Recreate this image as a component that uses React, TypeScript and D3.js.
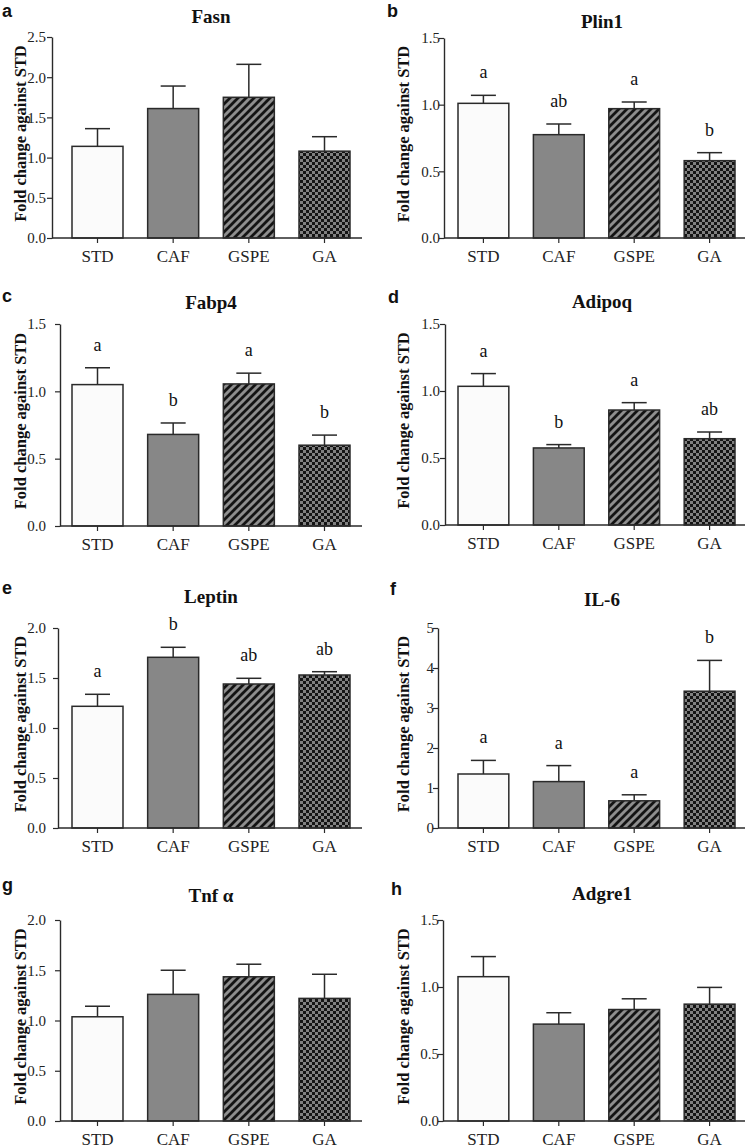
import React, { useEffect, useRef } from 'react';
import * as d3 from 'd3';

// groups on the x axis of every panel
const groups = ['STD', 'CAF', 'GSPE', 'GA'];

// one entry per panel, a..h
const panelTags = ['a', 'b', 'c', 'd', 'e', 'f', 'g', 'h'];
const geneNames = ['Fasn', 'Plin1', 'Fabp4', 'Adipoq', 'Leptin', 'IL-6', 'Tnf \u03b1', 'Adgre1'];

// mean fold change (STD, CAF, GSPE, GA)
const meanValues = [
  [1.14, 1.61, 1.75, 1.08],
  [1.01, 0.775, 0.97, 0.58],
  [1.05, 0.68, 1.055, 0.6],
  [1.035, 0.575, 0.858, 0.644],
  [1.217, 1.707, 1.44, 1.53],
  [1.35, 1.16, 0.68, 3.42],
  [1.037, 1.26, 1.435, 1.22],
  [1.077, 0.723, 0.832, 0.872],
];

// upper error bar (SEM)
const semValues = [
  [0.22, 0.28, 0.41, 0.18],
  [0.06, 0.08, 0.05, 0.06],
  [0.125, 0.085, 0.08, 0.075],
  [0.095, 0.025, 0.055, 0.05],
  [0.12, 0.1, 0.057, 0.033],
  [0.34, 0.4, 0.15, 0.77],
  [0.105, 0.24, 0.125, 0.24],
  [0.15, 0.085, 0.08, 0.125],
];

// significance letters above the bars
const sigLetters = [
  ['', '', '', ''],
  ['a', 'ab', 'a', 'b'],
  ['a', 'b', 'a', 'b'],
  ['a', 'b', 'a', 'ab'],
  ['a', 'b', 'ab', 'ab'],
  ['a', 'a', 'a', 'b'],
  ['', '', '', ''],
  ['', '', '', ''],
];

const yMaxValues = [2.5, 1.5, 1.5, 1.5, 2.0, 5, 2.0, 1.5];
const yTickSteps = [0.5, 0.5, 0.5, 0.5, 0.5, 1, 0.5, 0.5];

// page geometry of each panel (the figure panels are not perfectly aligned)
const layout = [
  { axisX: 52, top: 37, bottom: 238, tagX: 2, tagY: 17, titleY: 23 },
  { axisX: 444, top: 38, bottom: 238, tagX: 387, tagY: 17, titleY: 28 },
  { axisX: 60, top: 324, bottom: 526, tagX: 2, tagY: 302, titleY: 309 },
  { axisX: 445, top: 324, bottom: 525, tagX: 388, tagY: 303, titleY: 308 },
  { axisX: 58, top: 628, bottom: 828, tagX: 2, tagY: 594, titleY: 603 },
  { axisX: 438, top: 628, bottom: 828, tagX: 390, tagY: 595, titleY: 606 },
  { axisX: 60, top: 920, bottom: 1121, tagX: 2, tagY: 891, titleY: 902 },
  { axisX: 443, top: 920, bottom: 1121, tagX: 391, tagY: 895, titleY: 900 },
];

const columns = [
  { barRange: [72, 350], xEnd: 362, labelX: 46, titleX: 211, yLabelX: 26 },
  { barRange: [458, 735], xEnd: 745, labelX: 440, titleX: 602, yLabelX: 409 },
];

const fills = ['#fbfbfb', '#878787', 'url(#stripes)', 'url(#checks)'];
const SERIF = '"Liberation Serif", "Times New Roman", serif';
const SANS = '"Liberation Sans", Arial, sans-serif';
const INK = '#2a2a2a';

const App: React.FC = () => {
  const svgRef = useRef<SVGSVGElement>(null);

  useEffect(() => {
    const svg = d3.select(svgRef.current);
    svg.selectAll('*').remove();

    const defs = svg.append('defs');
    const stripes = defs.append('pattern')
      .attr('id', 'stripes')
      .attr('patternUnits', 'userSpaceOnUse')
      .attr('width', 8)
      .attr('height', 8);
    stripes.append('rect').attr('width', 8).attr('height', 8).attr('fill', '#8e8e8e');
    stripes.append('path')
      .attr('d', 'M-2,2 L2,-2 M0,8 L8,0 M6,10 L10,6')
      .attr('stroke', '#141414')
      .attr('stroke-width', 2.8);

    const checks = defs.append('pattern')
      .attr('id', 'checks')
      .attr('patternUnits', 'userSpaceOnUse')
      .attr('width', 6)
      .attr('height', 6);
    checks.append('rect').attr('width', 6).attr('height', 6).attr('fill', '#808080');
    checks.append('rect').attr('width', 3).attr('height', 3).attr('fill', '#141414');
    checks.append('rect').attr('x', 3).attr('y', 3).attr('width', 3).attr('height', 3).attr('fill', '#141414');

    layout.forEach((L, i) => {
      const col = columns[i % 2];
      const means = meanValues[i];
      const sems = semValues[i];
      const yMax = yMaxValues[i];
      const step = yTickSteps[i];

      const x = d3.scaleBand<string>()
        .domain(groups)
        .range(col.barRange as [number, number])
        .paddingInner(0.326)
        .paddingOuter(0);
      const y = d3.scaleLinear().domain([0, yMax]).range([L.bottom, L.top]);

      const g = svg.append('g');

      // panel tag and title
      g.append('text')
        .attr('x', L.tagX)
        .attr('y', L.tagY)
        .attr('font-family', SANS)
        .attr('font-weight', 'bold')
        .attr('font-size', 18)
        .attr('fill', '#111')
        .text(panelTags[i]);

      g.append('text')
        .attr('x', col.titleX)
        .attr('y', L.titleY)
        .attr('text-anchor', 'middle')
        .attr('font-family', SERIF)
        .attr('font-weight', 'bold')
        .attr('font-size', 19)
        .attr('fill', '#111')
        .text(geneNames[i]);

      // y axis label
      const yMid = (L.top + L.bottom) / 2 - 4;
      g.append('text')
        .attr('transform', `translate(${col.yLabelX},${yMid}) rotate(-90)`)
        .attr('text-anchor', 'middle')
        .attr('font-family', SERIF)
        .attr('font-weight', 'bold')
        .attr('font-size', 16.5)
        .attr('fill', '#111')
        .text('Fold change against STD');

      // bars
      g.selectAll('rect.bar')
        .data(groups)
        .enter()
        .append('rect')
        .attr('class', 'bar')
        .attr('x', d => x(d) as number)
        .attr('y', (_, j) => y(means[j]))
        .attr('width', x.bandwidth())
        .attr('height', (_, j) => y(0) - y(means[j]))
        .attr('fill', (_, j) => fills[j])
        .attr('stroke', INK)
        .attr('stroke-width', 1.5);

      // error bars (upper only)
      const capHalf = 12.5;
      groups.forEach((grp, j) => {
        const cx = (x(grp) as number) + x.bandwidth() / 2;
        const yTop = y(means[j] + sems[j]);
        g.append('line')
          .attr('x1', cx).attr('x2', cx)
          .attr('y1', y(means[j])).attr('y2', yTop)
          .attr('stroke', INK).attr('stroke-width', 1.5);
        g.append('line')
          .attr('x1', cx - capHalf).attr('x2', cx + capHalf)
          .attr('y1', yTop).attr('y2', yTop)
          .attr('stroke', INK).attr('stroke-width', 1.5);
        if (sigLetters[i][j]) {
          g.append('text')
            .attr('x', cx)
            .attr('y', yTop - 17)
            .attr('text-anchor', 'middle')
            .attr('font-family', SERIF)
            .attr('font-size', 18)
            .attr('fill', '#111')
            .text(sigLetters[i][j]);
        }
      });

      // y axis
      const ticks = d3.range(0, yMax + step / 2, step);
      const labelX = Math.min(col.labelX, L.axisX - 4);
      const yAxis = g.append('g')
        .attr('transform', `translate(${L.axisX},0)`)
        .call(
          d3.axisLeft(y)
            .tickValues(ticks)
            .tickSize(5)
            .tickSizeOuter(0)
            .tickPadding(L.axisX - labelX - 5)
            .tickFormat(d => (step >= 1 ? d3.format('d')(d as number) : d3.format('.1f')(d as number)))
        );
      yAxis.attr('font-size', 15).attr('font-family', SERIF);
      yAxis.select('.domain').attr('stroke', INK).attr('stroke-width', 1.4);
      yAxis.selectAll('.tick line').attr('stroke', INK).attr('stroke-width', 1.2);
      yAxis.selectAll('.tick text')
        .attr('font-family', SERIF)
        .attr('font-size', 15)
        .attr('fill', '#222');

      // x axis
      const xAxis = g.append('g')
        .attr('transform', `translate(0,${L.bottom})`)
        .call(d3.axisBottom(x).tickSize(5).tickSizeOuter(0).tickPadding(7));
      xAxis.attr('font-size', 17).attr('font-family', SERIF);
      xAxis.select('.domain').remove();
      xAxis.selectAll('.tick line').attr('stroke', INK).attr('stroke-width', 1.2);
      xAxis.selectAll('.tick text')
        .attr('font-family', SERIF)
        .attr('font-size', 17)
        .attr('fill', '#222');
      g.append('line')
        .attr('x1', L.axisX).attr('x2', col.xEnd)
        .attr('y1', L.bottom).attr('y2', L.bottom)
        .attr('stroke', INK).attr('stroke-width', 1.4);
    });
  }, []);

  return (
    <svg
      ref={svgRef}
      width={751}
      height={1148}
      style={{ position: 'absolute', left: 0, top: 0, display: 'block', background: '#fff' }}
    />
  );
};

export default App;
